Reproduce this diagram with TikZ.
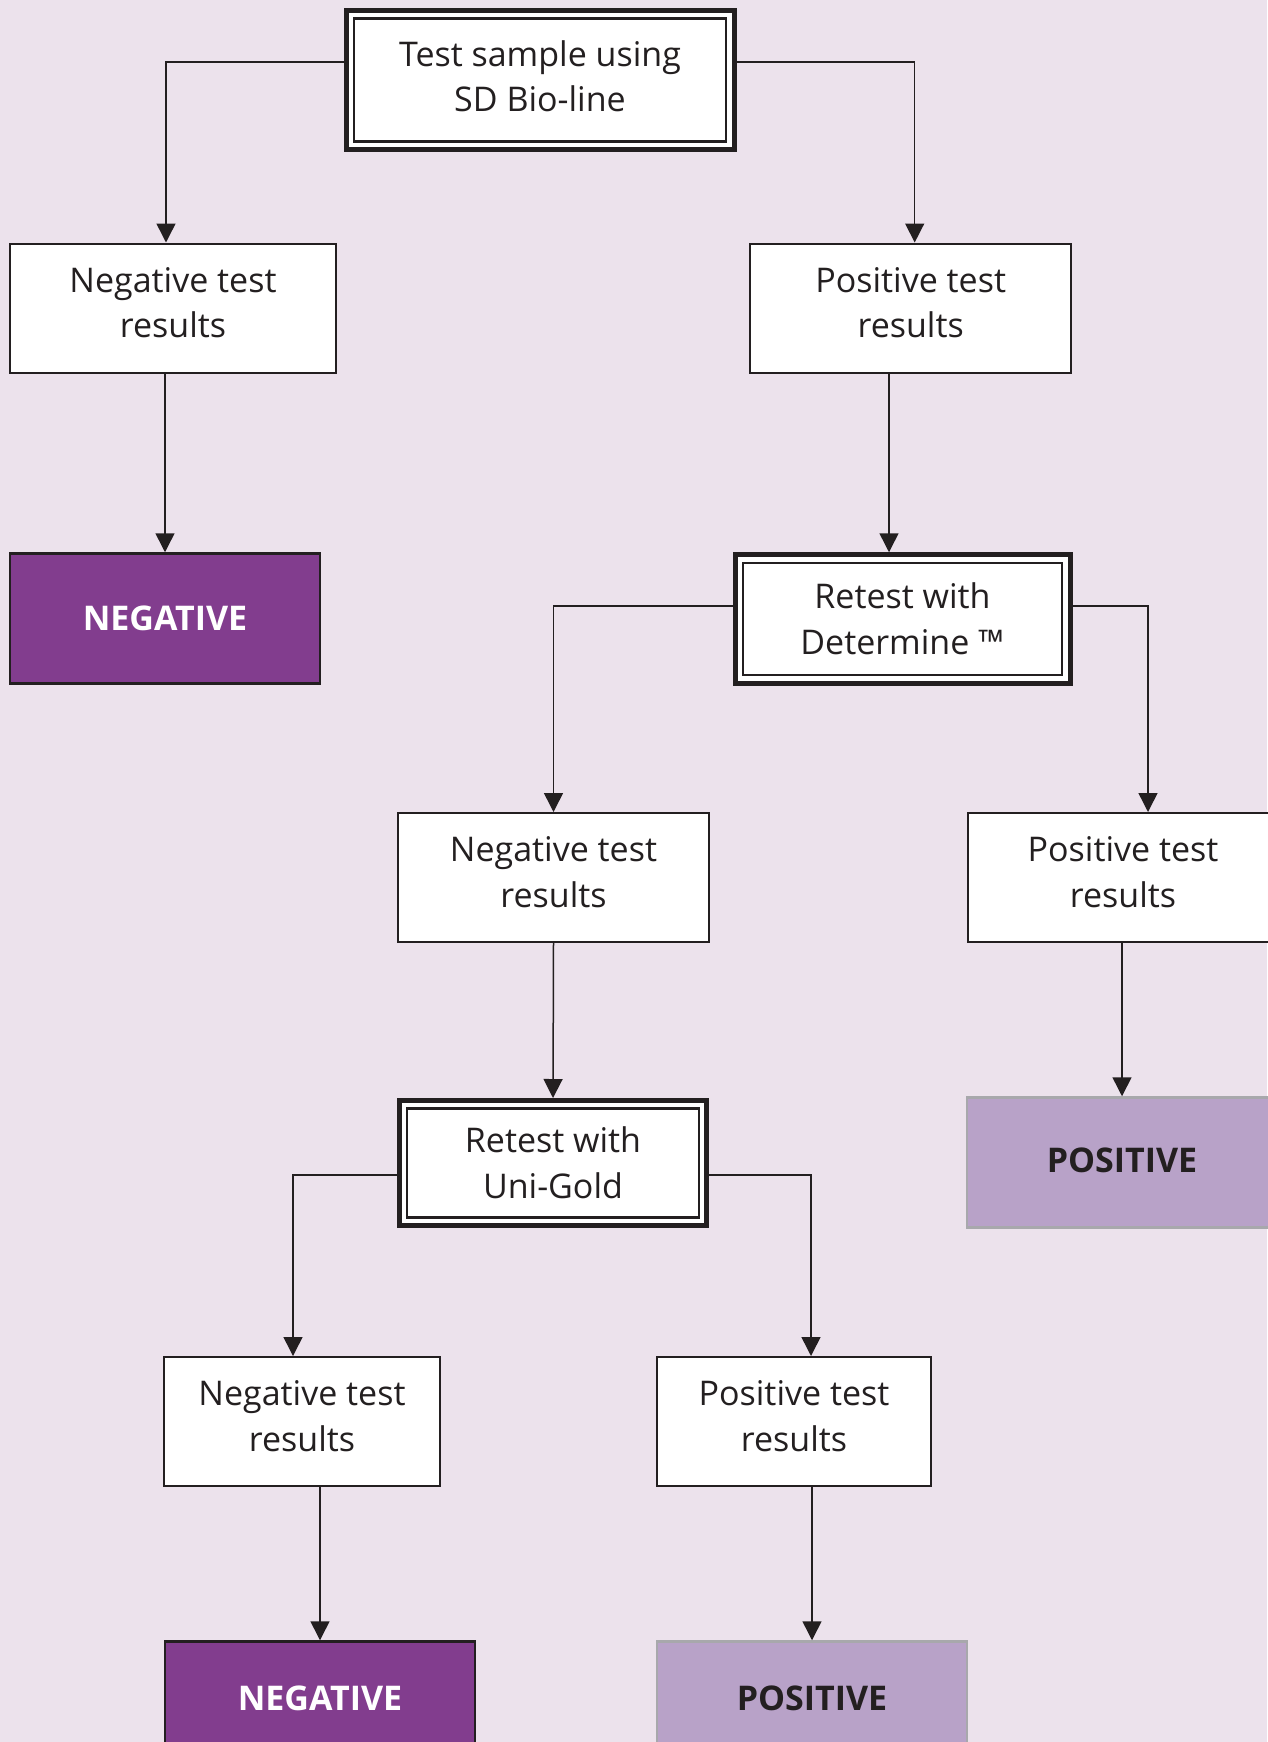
\documentclass[tikz,border=0pt]{standalone}
\usepackage{fontspec}
\setmainfont{Open Sans}
\usepackage{xcolor}
\usepackage{tikz}
\usetikzlibrary{arrows.meta}

\definecolor{bgpink}{RGB}{236,226,236}
\definecolor{inkdark}{RGB}{35,31,32}
\definecolor{negpurple}{RGB}{130,61,142}
\definecolor{poslilac}{RGB}{184,162,200}
\definecolor{posedge}{RGB}{168,168,172}

\begin{document}
\begin{tikzpicture}[
        x=1pt, y=-1pt,
        every node/.style={font=\fontsize{34}{45.6}\selectfont, text=inkdark},
        result/.style={
            rectangle, draw=inkdark, line width=2pt, fill=white,
            align=center, inner sep=0pt, minimum height=129pt,
            text depth=11pt
        },
        retest/.style={
            rectangle, draw=inkdark, line width=5pt, fill=white,
            align=center, inner sep=0pt,
            path picture={\draw[inkdark, line width=2.3pt]
                ([shift={(8pt,-8pt)}]path picture bounding box.north west) rectangle
                ([shift={(-8pt,8pt)}]path picture bounding box.south east);}
        },
        verdictneg/.style={
            rectangle, draw=inkdark, line width=2.5pt, fill=negpurple,
            text=white, font=\fontsize{34}{45.6}\selectfont\bfseries,
            minimum width=310pt, minimum height=130pt
        },
        verdictpos/.style={
            rectangle, draw=posedge, line width=2.5pt, fill=poslilac,
            font=\fontsize{34}{45.6}\selectfont\bfseries,
            minimum width=310pt, minimum height=130pt
        },
        flow/.style={draw=inkdark, line width=1.5pt, -{Triangle[width=19pt, length=19pt]}}
    ]
        \fill[bgpink] (0,0) rectangle (1267,1742);
        \useasboundingbox (0,0) rectangle (1267,1742);

        \node[retest, minimum width=388pt, minimum height=139pt, text depth=8pt] (sample) at (540,80) {Test sample using\\SD Bio-line};

        \node[result, minimum width=326pt] (neg1) at (173,308) {Negative test\\results};
        \node[result, minimum width=321pt] (pos1) at (910.7,308) {Positive test\\results};

        \node[verdictneg] (negres1) at (165,618.5) {NEGATIVE};
        \node[retest, minimum width=335pt, minimum height=128.5pt] (determine) at (902.5,619) {Retest with\\Determine ™};

        \node[result, minimum width=311pt] (neg2) at (553.5,877.5) {Negative test\\results};
        \node[result, minimum width=311pt] (pos2) at (1123,877.5) {Positive test\\results};

        \node[retest, minimum width=307.5pt, minimum height=125pt] (unigold) at (553,1163) {Retest with\\Uni-Gold};
        \node[verdictpos, text depth=4pt] (posres1) at (1122,1162.5) {POSITIVE};

        \node[result, minimum width=276pt] (neg3) at (302,1421.5) {Negative test\\results};
        \node[result, minimum width=274pt] (pos3) at (794,1421.5) {Positive test\\results};

        \node[verdictneg, minimum height=114pt] (negres2) at (320,1698.5) {NEGATIVE};
        \node[verdictpos, minimum height=114pt] (posres2) at (812,1698.5) {POSITIVE};

        \draw[flow] ([yshift=18pt]sample.west) -| ([xshift=-7pt]neg1.north);
        \draw[flow] ([yshift=18pt]sample.east) -| ([xshift=4pt]pos1.north);
        \draw[flow] (neg1.south -| negres1.north) -- (negres1.north);
        \draw[flow] ([xshift=-21.7pt]pos1.south) -- ([xshift=-13.5pt]determine.north);
        \draw[flow] ([yshift=13pt]determine.west) -| (neg2.north);
        \draw[flow] ([yshift=13pt]determine.east) -| ([xshift=25pt]pos2.north);
        \draw[flow] (neg2.south) -- (unigold.north);
        \draw[flow] (pos2.south -| posres1.north) -- (posres1.north);
        \draw[flow] ([yshift=-12pt]unigold.west) -| ([xshift=-9pt]neg3.north);
        \draw[flow] ([yshift=-12pt]unigold.east) -| ([xshift=17pt]pos3.north);
        \draw[flow] (neg3.south -| negres2.north) -- (negres2.north);
        \draw[flow] (pos3.south -| posres2.north) -- (posres2.north);
    \end{tikzpicture}
\end{document}
